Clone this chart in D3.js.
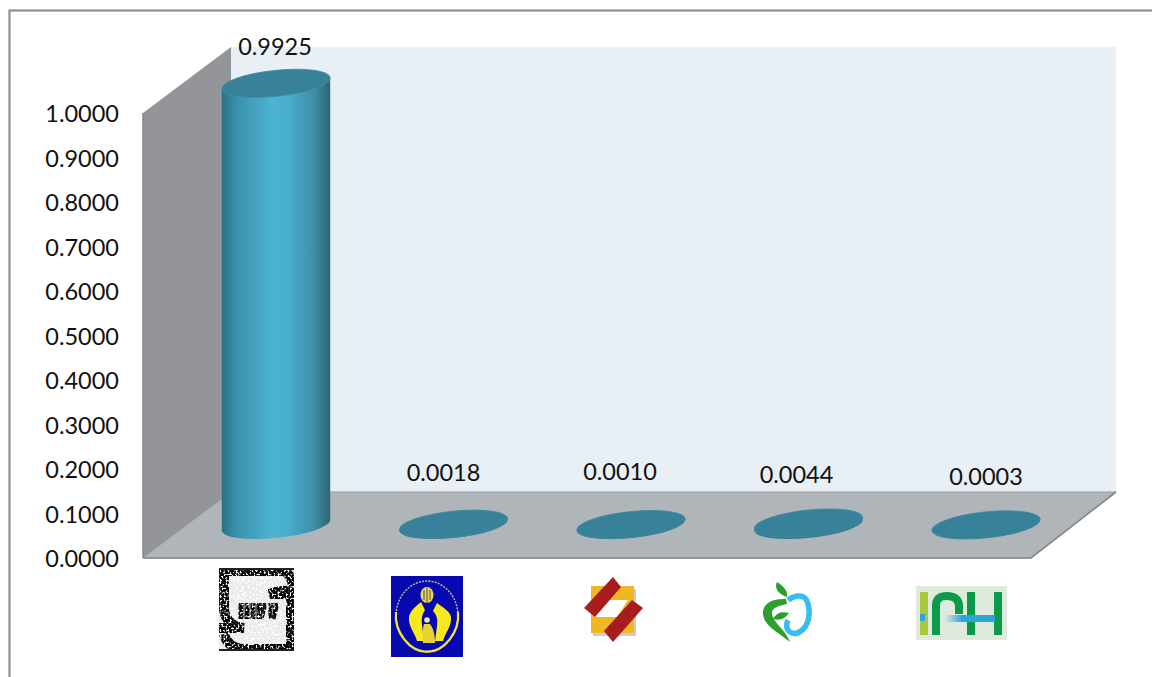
<!DOCTYPE html>
<html>
<head>
<meta charset="utf-8">
<script src="https://cdnjs.cloudflare.com/ajax/libs/d3/7.8.5/d3.min.js"></script>
<style>
  html, body { margin: 0; padding: 0; background: #fff; overflow: hidden; }
  text { font-family: Lato, "Open Sans", sans-serif; fill: #111; }
</style>
</head>
<body>
<svg id="chart"></svg>
<script>
// values
const categories = ["A", "B", "C", "D", "E"];
const values = [0.9925, 0.0018, 0.0010, 0.0044, 0.0003];
const valueLabels = ["0.9925", "0.0018", "0.0010", "0.0044", "0.0003"];
const tickValues = [0, 0.1, 0.2, 0.3, 0.4, 0.5, 0.6, 0.7, 0.8, 0.9, 1];

const width = 1152;
const height = 677;

// chart geometry
const floorY = 558;
const topY = 113;
const wallLeft = 143;
const wallRight = 1031;
const depthX = 88;
const depthY = -66;
const barRx = 54.5;
const barRy = 13;
const barTilt = -6;
const baseShift = -33; // bars sit in the middle of the floor

// hand placement of the value labels, offset from the bar centre
const labelDx = [-1, -10, -11, -12, 0];
const labelDy = [-36, -51, -53, -48, -48];

const svg = d3.select("#chart").attr("width", width).attr("height", height);

const x = d3.scalePoint().domain(categories).range([276, 986]);
const y = d3.scaleLinear().domain([0, 1]).range([floorY, topY]);

const defs = svg.append("defs");
const grad = defs.append("linearGradient").attr("id", "cyl");
[[0, "#2c6f86"], [0.12, "#3a8ea8"], [0.45, "#4bb3d2"], [0.6, "#4aafcd"], [0.85, "#3f8ea6"], [1, "#2d6473"]]
  .forEach(s => grad.append("stop").attr("offset", s[0]).attr("stop-color", s[1]));

const fade = defs.append("linearGradient").attr("id", "fade");
[[0, "#dfe9dd"], [0.35, "#2aa6d6"], [1, "#2aa6d6"]]
  .forEach(s => fade.append("stop").attr("offset", s[0]).attr("stop-color", s[1]));

// stipple used on the scanned first logo
const noise = defs.append("filter").attr("id", "stipple")
  .attr("x", 0).attr("y", 0).attr("width", 1).attr("height", 1);
noise.append("feTurbulence").attr("type", "fractalNoise").attr("baseFrequency", 0.5)
  .attr("numOctaves", 2).attr("seed", 4).attr("result", "n");
noise.append("feColorMatrix").attr("in", "n").attr("type", "matrix")
  .attr("values", "0 0 0 0 0  0 0 0 0 0  0 0 0 0 0  6 0 0 0 -2.1").attr("result", "m");
noise.append("feComposite").attr("in", "SourceGraphic").attr("in2", "m").attr("operator", "in").attr("result", "c");
noise.append("feGaussianBlur").attr("in", "c").attr("stdDeviation", 0.5);

// outer frame, it runs off the right and bottom of the picture
svg.append("rect").attr("x", 9.5).attr("y", 10.5).attr("width", 1200).attr("height", 720)
  .attr("fill", "#fff").attr("stroke", "#8f8f8f").attr("stroke-width", 2.2);

// walls and floor
const poly = pts => "M" + pts.map(p => p.join(",")).join("L") + "Z";
const y0 = y(0), y1 = y(1);

svg.append("path")
  .attr("d", poly([[wallLeft + depthX, y1 + depthY], [wallRight + 85, y1 + depthY], [wallRight + 85, y0 + depthY], [wallLeft + depthX, y0 + depthY]]))
  .attr("fill", "#e8eff5");
svg.append("path")
  .attr("d", poly([[wallLeft, y1], [wallLeft + depthX, y1 + depthY], [wallLeft + depthX, y0 + depthY], [wallLeft, y0]]))
  .attr("fill", "#939598");
svg.append("path")
  .attr("d", poly([[wallLeft, y0], [wallLeft + depthX, y0 + depthY], [wallRight + 85, y0 + depthY], [wallRight, y0]]))
  .attr("fill", "#b0b5b9")
  .attr("stroke", "#9b9ea1").attr("stroke-width", 1);
svg.append("path")
  .attr("d", `M${wallLeft},${y0}L${wallRight},${y0}L${wallRight + 85},${y0 + depthY}`)
  .attr("fill", "none").attr("stroke", "#858789").attr("stroke-width", 1.6);
svg.append("line")
  .attr("x1", wallLeft).attr("x2", wallLeft).attr("y1", y1).attr("y2", y0)
  .attr("stroke", "#858789").attr("stroke-width", 1.5);

// y axis
const axis = d3.axisLeft(y).tickValues(tickValues).tickFormat(d3.format(".4f")).tickSize(0).tickPadding(24);
const axisG = svg.append("g").attr("transform", `translate(${wallLeft},1)`).call(axis);
axisG.select(".domain").remove();
axisG.selectAll("text").style("font-size", "23.5px").attr("fill", "#111");

// cylinders
const tipX = Math.sqrt(barRx * barRx * Math.cos(barTilt * Math.PI / 180) ** 2 + barRy * barRy * Math.sin(barTilt * Math.PI / 180) ** 2);
const tipY = (barRx * barRx - barRy * barRy) * Math.sin(-barTilt * Math.PI / 180) * Math.cos(barTilt * Math.PI / 180) / tipX;
const baseY = y(0) + baseShift;
const barTop = d => baseY - (y(0) - y(d));

const bars = svg.append("g").selectAll("g")
  .data(values.map((v, i) => ({ v, i, cat: categories[i] })))
  .join("g")
  .attr("transform", d => `translate(${x(d.cat)},0)`);

bars.append("path")
  .attr("d", d => `M${-tipX},${barTop(d.v) + tipY}L${-tipX},${baseY + tipY}` +
    `A${barRx},${barRy} ${barTilt} 0 0 ${tipX},${baseY - tipY}L${tipX},${barTop(d.v) - tipY}Z`)
  .attr("fill", d => d.v > 0.01 ? "url(#cyl)" : "#347b91");

bars.append("ellipse")
  .attr("rx", barRx).attr("ry", barRy)
  .attr("transform", d => `translate(0,${barTop(d.v)}) rotate(${barTilt})`)
  .attr("fill", "#388299")
  .attr("stroke", "#3f8ba1").attr("stroke-width", 0.8);

// value labels
svg.append("g").selectAll("text")
  .data(values)
  .join("text")
  .attr("x", (d, i) => x(categories[i]) + labelDx[i])
  .attr("y", (d, i) => barTop(d) + labelDy[i] + 8)
  .attr("text-anchor", "middle")
  .style("font-size", "23.5px")
  .text((d, i) => valueLabels[i]);

// logos under the categories, drawn by hand in page pixels
const logos = svg.append("g");

function logo1(g) {
  g.append("rect").attr("x", 219).attr("y", 568).attr("width", 75).attr("height", 83).attr("fill", "#fff");
  const ink = g.append("g").attr("filter", "url(#stipple)");
  ink.append("rect").attr("x", 219).attr("y", 568).attr("width", 75).attr("height", 83).attr("fill", "#bbb").attr("opacity", 0.3);
  ink.append("path")
    .attr("d", "M284,571H224V610C226,622 234,627 244,628H219M224,634C226,642 232,648 242,649H291V594H270C278,590 288,590 293,593M284,571C288,573 292,578 293,586")
    .attr("fill", "none").attr("stroke", "#000").attr("stroke-width", 10);
  ink.append("path")
    .attr("d", "M241,603V619M247,603V619M253,603V619M259,603V619M265,603L261,619M271,603V619M277,603L273,619")
    .attr("fill", "none").attr("stroke", "#000").attr("stroke-width", 5);
  g.append("rect").attr("x", 219).attr("y", 568).attr("width", 75).attr("height", 2).attr("fill", "#222");
  g.append("rect").attr("x", 219).attr("y", 649).attr("width", 75).attr("height", 2).attr("fill", "#222");
  // kept as real text for the year in the scan
  g.append("text").attr("x", 258).attr("y", 618).attr("text-anchor", "middle")
    .attr("textLength", 37).attr("lengthAdjust", "spacingAndGlyphs")
    .style("font-size", "20px").style("font-weight", 900).style("fill", "#333").style("opacity", 0.45).text("1971");
}

function logo2(g) {
  g.append("rect").attr("x", 391).attr("y", 576).attr("width", 72).attr("height", 81).attr("fill", "#0808b0");
  g.append("ellipse").attr("cx", 427).attr("cy", 616).attr("rx", 31).attr("ry", 35)
    .attr("fill", "none").attr("stroke", "#c9c98a").attr("stroke-width", 1.4).attr("stroke-dasharray", "2 1.2");
  g.append("path").attr("d", "M396,612C394,632 410,652 427,652C444,652 460,632 458,612")
    .attr("fill", "none").attr("stroke", "#f3e33a").attr("stroke-width", 2.2);
  g.append("ellipse").attr("cx", 427).attr("cy", 595).attr("rx", 6.5).attr("ry", 8).attr("fill", "#e8d84a");
  g.append("path").attr("d", "M427,588V603M424,590V600M430,590V600").attr("stroke", "#3a3a70").attr("stroke-width", 0.9);
  g.append("path")
    .attr("d", "M421,602L425,610C422,614 421,619 422,625L424,641H417C415,633 408,626 409,617C410,611 416,606 421,602ZM437,603L433,611C437,615 438,620 437,626L435,641H443C445,633 452,626 451,617C450,611 442,607 437,603Z")
    .attr("fill", "#f7ea1c");
  g.append("circle").attr("cx", 427).attr("cy", 620).attr("r", 2.8).attr("fill", "#f0e9a0");
  g.append("path").attr("d", "M424,624C422,630 423,637 423,643H435C435,636 434,629 430,624Z").attr("fill", "#e7d233");
}

function logo3(g) {
  g.append("rect").attr("x", 593).attr("y", 589).attr("width", 43).attr("height", 47).attr("fill", "#ccc");
  g.append("rect").attr("x", 591).attr("y", 586).attr("width", 43).attr("height", 47).attr("fill", "#efb722");
  g.append("path").attr("d", "M601,600H628L617,617H595Z").attr("fill", "#fff");
  g.append("path").attr("d", "M613,577L621,587L595,617L584,608Z").attr("fill", "#a81c1c");
  g.append("path").attr("d", "M632,600L643,608L613,642L604,631Z").attr("fill", "#a81c1c");
}

function logo4(g) {
  g.append("path").attr("d", "M788,600C796,594 806,594 808,604C811,615 808,626 801,631C796,635 789,634 787,628C786,625 787,622 788,620")
    .attr("fill", "none").attr("stroke", "#37bdef").attr("stroke-width", 5.5);
  g.append("path").attr("d", "M786,599C772,598 762,604 763,614C764,626 778,632 790,642C786,632 780,628 776,622C770,614 771,609 777,607C780,605 784,605 787,604Z")
    .attr("fill", "#2ca02c");
  g.append("path").attr("d", "M777,582C774,588 778,594 787,597C788,590 783,586 777,582Z").attr("fill", "#2ca02c");
  g.append("path").attr("d", "M773,619C778,611 783,612 789,613C785,619 780,621 773,619Z").attr("fill", "#2ca02c");
}

function logo5(g) {
  g.append("rect").attr("x", 916).attr("y", 586).attr("width", 91).attr("height", 54).attr("fill", "#dfe9dd");
  g.append("rect").attr("x", 920).attr("y", 592).attr("width", 8).attr("height", 43).attr("fill", "#a9c83c");
  g.append("path").attr("d", "M936,635V606C936,597 942,596 947,596C953,596 959,598 959,606V614")
    .attr("fill", "none").attr("stroke", "#0b9a4a").attr("stroke-width", 8);
  g.append("rect").attr("x", 967).attr("y", 592).attr("width", 8).attr("height", 43).attr("fill", "#0b9a4a");
  g.append("rect").attr("x", 994).attr("y", 592).attr("width", 8).attr("height", 43).attr("fill", "#0b9a4a");
  g.append("rect").attr("x", 945).attr("y", 615).attr("width", 50).attr("height", 7).attr("fill", "url(#fade)");
  g.append("rect").attr("x", 920).attr("y", 614).attr("width", 5).attr("height", 7).attr("fill", "#2aa6d6");
}

[logo1, logo2, logo3, logo4, logo5].forEach(f => f(logos.append("g")));
</script>
</body>
</html>
